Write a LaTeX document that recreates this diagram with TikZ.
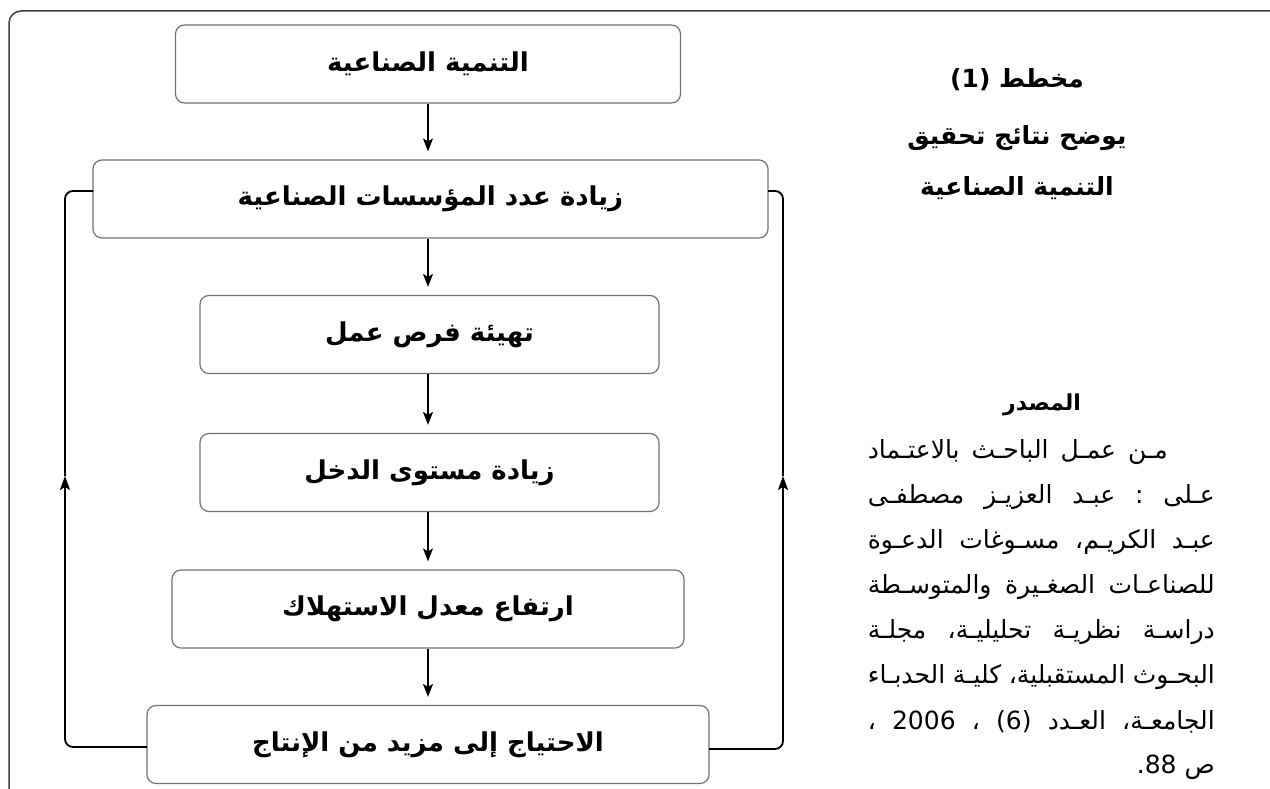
\documentclass[tikz,border=0pt]{standalone}
\usepackage{fontspec}
\usetikzlibrary{arrows.meta}
\TeXXeTstate=1
\newfontfamily\arabicfont[Script=Arabic]{DejaVu Sans}
\newcommand{\ar}[1]{\arabicfont\beginR #1\endR}
\newcommand{\srcline}[2]{\hbox to #1{\arabicfont\beginR #2\endR}}
\tikzset{
  box/.style={draw=black!55, line width=1.2pt, rounded corners=9pt, fill=white,
    minimum height=78pt, inner sep=0pt, font=\fontsize{26}{30}\selectfont\bfseries},
  flow/.style={draw=black, line width=1.5pt, -{Stealth[length=13pt,width=10pt,inset=3pt]}, shorten >=8pt},
  loopline/.style={draw=black, line width=1.8pt, rounded corners=8pt},
  looparrow/.style={draw=black, line width=1.8pt, rounded corners=8pt, -{Stealth[length=14pt,width=10pt,inset=3pt]}},
  outerframe/.style={draw=black!75, line width=1.5pt, rounded corners=12pt},
  title/.style={font=\fontsize{25}{30}\selectfont\bfseries, inner sep=0pt},
  src/.style={font=\fontsize{25}{30}\selectfont, inner sep=0pt, anchor=east}
}
\begin{document}
\begin{tikzpicture}[x=1pt,y=-1pt]
\useasboundingbox (0,0) rectangle (1270,789);
\fill[white] (0,0) rectangle (1270,789);
% outer frame
\coordinate (fa) at (9,789);
\coordinate (fb) at (9,11);
\coordinate (fc) at (1270,11);
\draw[outerframe] (fa) -- (fb) -- (fc);

% boxes
\node[box, minimum width=505pt] (b1) at (428,64) {\ar{التنمية الصناعية}};
\node[box, minimum width=675pt] (b2) at (430.5,199) {\ar{زيادة عدد المؤسسات الصناعية}};
\node[box, minimum width=459pt] (b3) at (429.5,334.5) {\ar{تهيئة فرص عمل}};
\node[box, minimum width=459pt] (b4) at (429.5,472.5) {\ar{زيادة مستوى الدخل}};
\node[box, minimum width=512pt] (b5) at (428,609) {\ar{ارتفاع معدل الاستهلاك}};
\node[box, minimum width=562pt] (b6) at (428,744.5) {\ar{الاحتياج إلى مزيد من الإنتاج}};

% flow arrows
\draw[flow] (b1.south) -- (b1.south |- b2.north);
\draw[flow] (b2.south -| b1.south) -- (b1.south |- b3.north);
\draw[flow] (b3.south -| b1.south) -- (b1.south |- b4.north);
\draw[flow] (b4.south -| b1.south) -- (b1.south |- b5.north);
\draw[flow] (b5.south) -- (b5.south |- b6.north);

% feedback loops
\coordinate (L6) at (147,747);
\coordinate (Lc1) at (65,747);
\coordinate (Lm) at (65,476);
\coordinate (Lc2) at (65,191);
\coordinate (L2) at (93,191);
\coordinate (R6) at (709,749);
\coordinate (Rc1) at (783,749);
\coordinate (Rm) at (783,476);
\coordinate (Rc2) at (783,191);
\coordinate (R2) at (768,191);
\draw[looparrow] (L6) -- (Lc1) -- (Lm);
\draw[loopline] (Lm) -- (Lc2) -- (L2);
\draw[looparrow] (R6) -- (Rc1) -- (Rm);
\draw[loopline] (Rm) -- (Rc2) -- (R2);

% title
\node[title] (t1) at (1017,80) {\ar{مخطط \beginL(1)\endL}};
\node[title] (t2) at (1017,138) {\ar{يوضح نتائج تحقيق}};
\node[title] (t3) at (1017,188) {\ar{التنمية الصناعية}};

% source
\node[title, font=\fontsize{22}{26}\selectfont\bfseries] (s0) at (1042,405) {\ar{المصدر}};
\node[src] (s1) at (1168,452) {\srcline{300pt}{مـن\hfill عمـل\hfill الباحـث\hfill بالاعتـماد}};
\node[src] (s2) at (1215,497) {\srcline{347pt}{عـلى\hfill :\hfill عبـد\hfill العزيـز\hfill مصطفـى}};
\node[src] (s3) at (1215,542) {\srcline{347pt}{عبـد\hfill الكريـم،\hfill مسـوغات\hfill الدعـوة}};
\node[src] (s4) at (1215,587) {\srcline{347pt}{للصناعـات\hfill الصغـيرة\hfill والمتوسـطة}};
\node[src] (s5) at (1215,632) {\srcline{347pt}{دراسـة\hfill نظريـة\hfill تحليليـة،\hfill مجلـة}};
\node[src] (s6) at (1215,677) {\srcline{347pt}{البحـوث\hfill المستقبلية،\hfill كليـة\hfill الحدبـاء}};
\node[src] (s7) at (1215,722) {\srcline{347pt}{الجامعـة،\hfill العـدد\hfill \beginL(6)\endL\hfill ،\hfill \beginL 2006\endL\hfill ،}};
\node[src] (s8) at (1215,767) {\ar{ص \beginL 88\endL.}};
\end{tikzpicture}
\end{document}
